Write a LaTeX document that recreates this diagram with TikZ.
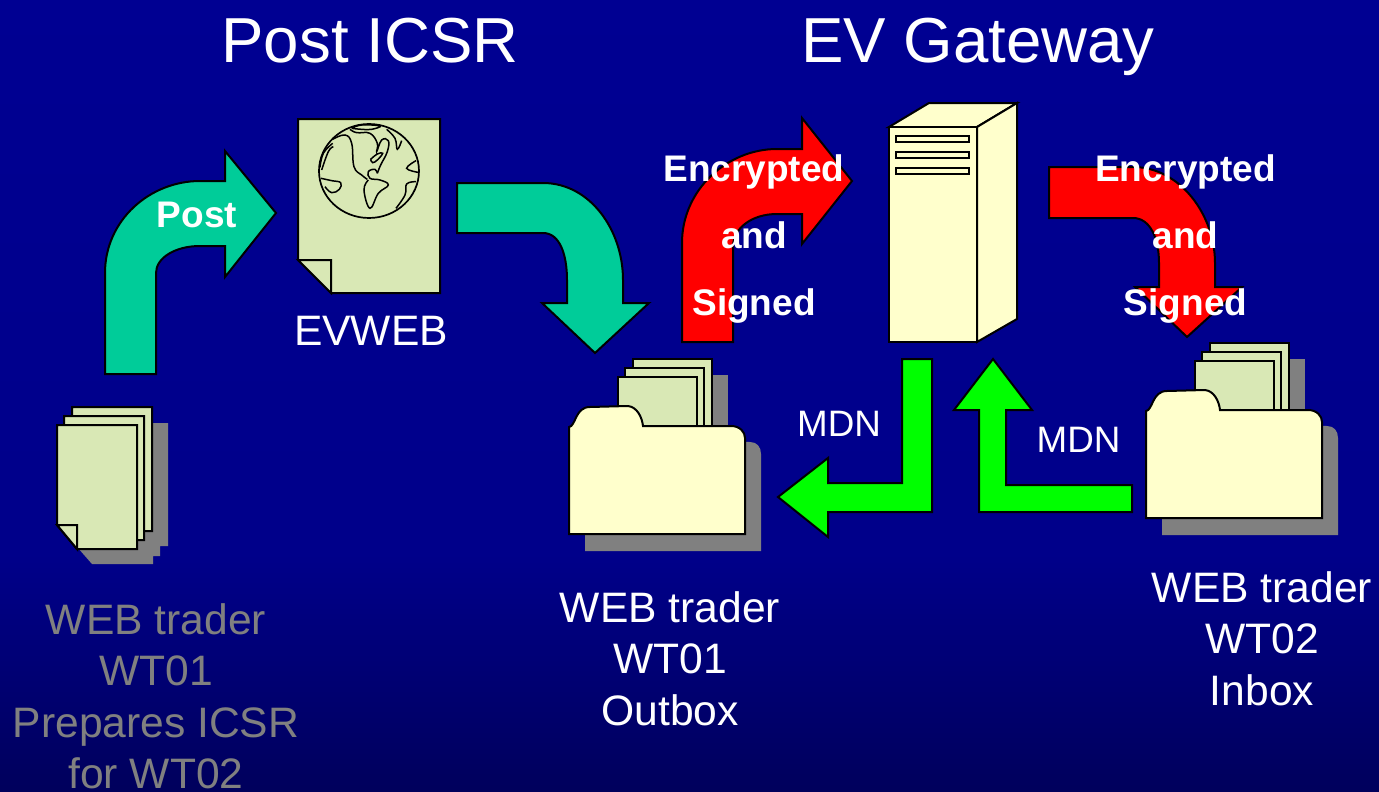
\documentclass[tikz,border=0pt]{standalone}
\usepackage{fontspec}
\setmainfont{Liberation Sans}
\usepackage{xcolor}
\definecolor{tealarrow}{RGB}{0, 204, 153}
\definecolor{paperfill}{RGB}{217, 232, 181}
\definecolor{folderfill}{RGB}{255, 255, 204}
\definecolor{shadowgray}{RGB}{128, 128, 128}
\definecolor{bgtop}{RGB}{0, 0, 146}
\definecolor{bgmid}{RGB}{0, 0, 138}
\definecolor{bgbot}{RGB}{0, 0, 92}
\pgfdeclareverticalshading{slidebg}{100bp}{
    color(0bp)=(bgbot); color(25bp)=(bgbot); color(40bp)=(bgmid);
    color(75bp)=(bgtop); color(100bp)=(bgtop)
}
\tikzstyle{outline} = [
    draw=black,
    line width=2pt,
    line join=miter
]
\tikzstyle{paper} = [outline, fill=paperfill]
\tikzstyle{cabinet} = [outline, fill=folderfill]
\tikzstyle{shadow} = [fill=shadowgray]
\tikzstyle{coast} = [line width=1.5pt, smooth, tension=0.7]
\tikzstyle{heading} = [text=white, font=\fontsize{63.6}{70}\selectfont, anchor=base, inner sep=0pt]
\tikzstyle{caption} = [text=white, font=\fontsize{42.6}{51.5}\selectfont, align=center, anchor=north, inner sep=0pt]
\tikzstyle{boldlabel} = [text=white, font=\fontsize{37}{67}\selectfont\bfseries, align=center, anchor=north, inner sep=0pt]
\tikzstyle{smalllabel} = [text=white, font=\fontsize{36.8}{40}\selectfont, anchor=base, inner sep=0pt]

% folder with three sheets, #1 = shift
\newcommand{\outbox}[1]{
    \begin{scope}[shift={#1}]
        \fill[shadow] (649,375) rectangle (728,450);
        \fill[shadow] (585,551) -- (585,440) -- (750,442)
            .. controls (757,442) and (761,447) .. (761,454) -- (761,551) -- cycle;
        \draw[paper] (633,359) rectangle (712,440);
        \draw[paper] (625,368) rectangle (704,440);
        \draw[paper] (618,377) rectangle (697,440);
        \draw[cabinet] (569,534) -- (569,427)
            .. controls (576,426) and (575,407) .. (590,407)
            -- (628,406) .. controls (637,407) and (642,417) .. (643,426)
            -- (731,426) .. controls (740,426) and (745,432) .. (745,438)
            -- (745,534) -- cycle;
    \end{scope}
}

\begin{document}
\begin{tikzpicture}[x=1pt, y=-1pt]

\useasboundingbox (0,0) rectangle (1379,792);
\shade[shading=slidebg] (0,0) rectangle (1379,792);

% sheets on the left
\fill[shadow] (168,423) -- (168,546) -- (160,546) -- (160,556) -- (153,556)
    -- (153,564) -- (92,564) -- (78,548) -- (100,423) -- cycle;
\draw[paper] (72,407) -- (152,407) -- (152,531) -- (100,531) -- (72,500) -- cycle;
\draw[paper] (64,416) -- (144,416) -- (144,540) -- (90,540) -- (64,510) -- cycle;
\draw[paper] (57,425) -- (137,425) -- (137,549) -- (77,549) -- (57,525) -- cycle;
\draw[paper] (57,525) -- (77,525) -- (77,549) -- cycle;

% evweb page
\draw[paper] (298,119) -- (440,119) -- (440,293) -- (331,293) -- (298,260) -- cycle;
\draw[paper] (298,260) -- (331,260) -- (331,293) -- cycle;
\begin{scope}[shift={(290,110)}, x=0.3333pt, y=-0.3333pt]
    \draw[line width=1.7pt] (237,183) ellipse [x radius=150, y radius=141];
    \draw[coast] plot coordinates {(128,88) (165,75) (185,100) (192,170) (215,195) (232,208)};
    \draw[coast] plot coordinates {(235,210) (222,240) (240,295) (265,250) (295,225) (270,210) (240,205) (235,185) (255,178) (262,190)};
    \draw[coast] plot coordinates {(262,190) (272,165) (292,125) (295,92) (275,90) (260,125) (262,100) (240,70) (200,68) (180,58)};
    \draw[coast] plot coordinates {(242,148) (262,132) (278,130) (262,150) (248,158) (242,148)};
    \draw[coast] plot coordinates {(90,172) (100,130) (128,100)};
    \draw[coast] plot coordinates {(95,180) (115,125) (130,110)};
    \draw[coast] plot coordinates {(93,205) (125,212) (152,218) (148,238) (125,248) (105,230)};
    \draw[coast] plot coordinates {(185,55) (215,45) (270,48) (245,58) (215,58) (185,55)};
    \draw[coast] plot coordinates {(290,58) (315,85) (322,118) (335,92)};
    \draw[coast] plot coordinates {(378,152) (350,175) (384,187)};
    \draw[coast] plot coordinates {(378,215) (350,222) (345,255) (318,295)};
\end{scope}

% server
\draw[cabinet] (889,127) -- (929,103) -- (1017,103) -- (977,127) -- cycle;
\draw[cabinet] (977,127) -- (1017,103) -- (1017,319) -- (977,342) -- cycle;
\draw[cabinet] (889,127) rectangle (977,342);
\foreach \y in {136,152,168} {
    \draw[cabinet] (896,\y) rectangle (969,\y+5.5);
}

% folders
\outbox{(0,0)}
\outbox{(577,-16)}

% post arrow
\draw[outline, fill=tealarrow] (105,374) -- (105,273) .. controls (105,220) and (150,181) .. (200,181)
    -- (225,181) -- (225,151) -- (276,213) -- (225,277) -- (225,246) -- (200,246)
    .. controls (175,246) and (156,258) .. (156,273) -- (156,374) -- cycle;
% evweb to outbox
\draw[outline, fill=tealarrow] (457,183) -- (543,183) .. controls (590,183) and (623,230) .. (623,280)
    -- (623,303) -- (649,303) -- (595,353) -- (542,303) -- (567,303) -- (567,280)
    .. controls (567,255) and (560,233) .. (543,233) -- (457,233) -- cycle;
% red arrows
\draw[outline, fill=red] (682,342) -- (682,243) .. controls (682,190) and (727,149) .. (777,149)
    -- (802,149) -- (802,118) -- (852,181) -- (802,244) -- (802,214) -- (777,214)
    .. controls (752,214) and (733,228) .. (733,247) -- (733,342) -- cycle;
\draw[outline, fill=red] (1049,167) -- (1133,167) .. controls (1180,167) and (1215,215) .. (1215,263)
    -- (1215,287) -- (1242,287) -- (1187,337) -- (1135,287) -- (1159,287) -- (1159,263)
    .. controls (1159,238) and (1150,218) .. (1133,218) -- (1049,218) -- cycle;
% mdn arrows
\draw[outline, fill=green] (902,359) -- (932,359) -- (932,512) -- (828,512) -- (828,537) -- (778,497)
    -- (828,458) -- (828,483) -- (902,483) -- cycle;
\draw[outline, fill=green] (993,359) -- (1032,410) -- (1006,410) -- (1006,485) -- (1132,485)
    -- (1132,512) -- (979,512) -- (979,410) -- (954,410) -- cycle;

% texts
\node[heading] (titlepost) at (370,63) {Post ICSR};
\node[heading] (titlegateway) at (978,63) {EV Gateway};
\node[caption] (evweb) at (371,316) {EVWEB};
\node[caption, text=shadowgray] (preparer) at (156,603) {WEB trader\\WT01\\Prepares ICSR\\for WT02};
\node[caption] (outboxlabel) at (670,591) {WEB trader\\WT01\\Outbox};
\node[caption] (inboxlabel) at (1262,571) {WEB trader\\WT02\\Inbox};
\node[boldlabel] (postlabel) at (197,202) {Post};
\node[boldlabel] (encleft) at (754,154) {Encrypted\\and\\Signed};
\node[boldlabel] (encright) at (1185.5,154) {Encrypted\\and\\Signed};
\node[smalllabel] (mdnleft) at (839,436) {MDN};
\node[smalllabel] (mdnright) at (1078.5,452) {MDN};

\end{tikzpicture}
\end{document}
